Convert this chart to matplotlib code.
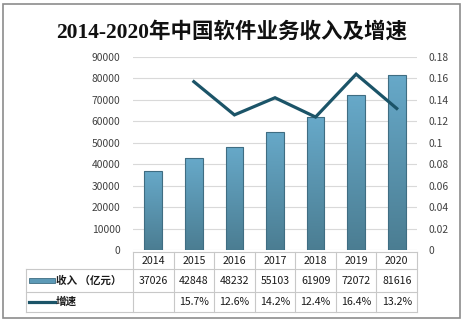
import matplotlib
matplotlib.use("Agg")
import matplotlib.pyplot as plt
import numpy as np
from matplotlib.patches import Rectangle
from matplotlib.lines import Line2D
from matplotlib.colors import LinearSegmentedColormap

plt.rcParams['font.family'] = ['Noto Sans CJK SC', 'DejaVu Sans']

years = ["2014", "2015", "2016", "2017", "2018", "2019", "2020"]
revenue = [37026, 42848, 48232, 55103, 61909, 72072, 81616]
growth = [None, 0.157, 0.126, 0.142, 0.124, 0.164, 0.132]
title = "2014-2020年中国软件业务收入及增速"
bar_label = "收入 （亿元）"
line_label = "增速"

W, H = 464, 321
fig = plt.figure(figsize=(W / 100, H / 100), dpi=100)
fig.patch.set_facecolor("white")

# outer frame
fig.add_artist(Rectangle((3 / W, 3 / H), 457 / W, 314 / H, transform=fig.transFigure,
                         fill=False, edgecolor="#8c8c8c", linewidth=1.2))

L, R, T, B = 133, 417, 57, 250
ax = fig.add_axes([L / W, 1 - B / H, (R - L) / W, (B - T) / H])
x = np.arange(len(years))
ax.set_yticks(np.arange(0, 90001, 10000))
ax.set_xticks([])
for s in ax.spines.values():
    s.set_visible(False)
ax.tick_params(axis='y', length=0, pad=9, labelsize=7.4, labelcolor="#404040")
ax.grid(axis='y', color="#d9d9d9", linewidth=0.8)
ax.set_axisbelow(True)

bw = 0.44
bars = ax.bar(x, revenue, width=bw, color="none", edgecolor="#3f6d82", linewidth=0.8, zorder=3)
grad = np.linspace(0, 1, 256).reshape(-1, 1)
cmap = LinearSegmentedColormap.from_list("g", ["#4b7d92", "#67a9c9"])
for b in bars:
    x0, y0 = b.get_x(), b.get_y()
    w, h = b.get_width(), b.get_height()
    im = ax.imshow(grad, extent=[x0, x0 + w, y0, y0 + h], origin='lower', cmap=cmap,
                   aspect='auto', zorder=2)
    im.set_clip_path(b)
ax.set_xlim(-0.5, len(years) - 0.5)
ax.set_ylim(0, 90000)

ax2 = ax.twinx()
ax2.set_ylim(0, 0.18)
ax2.set_yticks(np.round(np.arange(0, 0.181, 0.02), 2))
ax2.set_yticklabels(["0", "0.02", "0.04", "0.06", "0.08", "0.1", "0.12", "0.14", "0.16", "0.18"])
for s in ax2.spines.values():
    s.set_visible(False)
ax2.tick_params(axis='y', length=0, pad=8, labelsize=7.4, labelcolor="#404040")
gx = [i for i, g in enumerate(growth) if g is not None]
gy = [g for g in growth if g is not None]
ax2.plot(gx, gy, color="#1b5468", linewidth=2.3, solid_joinstyle='miter', zorder=4)

fig.text(232 / W, 1 - 32 / H, title, ha='center', va='center', fontsize=15.5, color="#111111",
         family=['Liberation Serif', 'Noto Sans CJK SC'], fontweight='bold')

# data table
lc = "#c8c8c8"
def hline(y, x0, x1):
    fig.add_artist(Line2D([x0 / W, x1 / W], [1 - y / H, 1 - y / H], color=lc, lw=0.8))
def vline(xp, y0, y1):
    fig.add_artist(Line2D([xp / W, xp / W], [1 - y0 / H, 1 - y1 / H], color=lc, lw=0.8))

ry = [252, 269, 292, 312]
hline(ry[0], L, R)
hline(ry[1], 26, R)
hline(ry[2], 26, R)
hline(ry[3], 26, R)
colw = (R - L) / len(years)
for i in range(len(years) + 1):
    vline(L + i * colw, ry[0], ry[3])
vline(26, ry[1], ry[3])

fs = 7.6
for i, yr in enumerate(years):
    cx = (L + (i + 0.5) * colw) / W
    fig.text(cx, 1 - (ry[0] + ry[1]) / 2 / H, yr, ha='center', va='center', fontsize=fs, color="#1a1a1a")
    fig.text(cx, 1 - (ry[1] + ry[2]) / 2 / H, str(revenue[i]), ha='center', va='center', fontsize=fs, color="#1a1a1a")
    if growth[i] is not None:
        fig.text(cx, 1 - (ry[2] + ry[3]) / 2 / H, f"{growth[i] * 100:.1f}%", ha='center', va='center',
                 fontsize=fs, color="#1a1a1a")

# legend keys
ym = (ry[1] + ry[2]) / 2
fig.add_artist(Rectangle((29 / W, 1 - (ym + 2.5) / H), 26 / W, 5 / H, transform=fig.transFigure,
                         facecolor="#5d9ab7", edgecolor="#3f6d82", linewidth=0.6))
fig.text(56 / W, 1 - ym / H, bar_label, ha='left', va='center', fontsize=fs, color="#1a1a1a", fontweight='bold')
ym2 = (ry[2] + ry[3]) / 2
fig.add_artist(Line2D([29 / W, 55 / W], [1 - ym2 / H, 1 - ym2 / H], color="#1b5468", lw=2.3))
fig.text(56 / W, 1 - ym2 / H, line_label, ha='left', va='center', fontsize=fs, color="#1a1a1a", fontweight='bold')

fig.savefig("out.png", dpi=100)
